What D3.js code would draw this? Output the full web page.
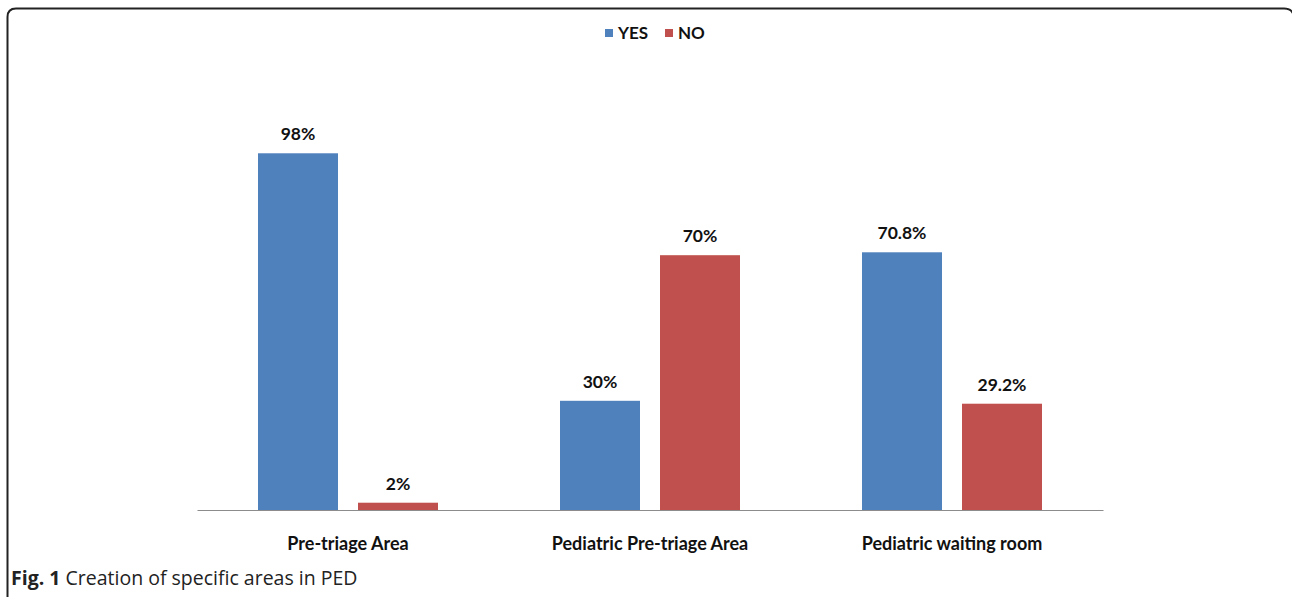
<!DOCTYPE html>
<html>
<head>
<meta charset="utf-8">
<script src="https://cdn.jsdelivr.net/npm/d3@7"></script>
<style>
  body { margin: 0; background: #fff; }
  svg { display: block; }
</style>
</head>
<body>
<svg id="chart" width="1292" height="597"></svg>
<script>
// Data
const categories = ["Pre-triage Area", "Pediatric Pre-triage Area", "Pediatric waiting room"];
const seriesNames = ["YES", "NO"];
const yesValues = [98, 30, 70.8];
const noValues = [2, 70, 29.2];
const valueLabels = [["98%", "2%"], ["30%", "70%"], ["70.8%", "29.2%"]];
const colors = ["#4F81BD", "#C0504D"];

const svg = d3.select("#chart");
const width = +svg.attr("width");
const height = +svg.attr("height");

// frame around the figure (right edge runs just off the page)
svg.append("path")
    .attr("d", "M7.5,597 L7.5,17 Q7.5,8.5 16,8.5 L1284,8.5 Q1294,8.5 1294,19 L1294,597")
    .attr("fill", "none")
    .attr("stroke", "#222")
    .attr("stroke-width", 2);

// scales
const x0 = d3.scaleBand().domain(categories).range([197, 1103]).paddingInner(0).paddingOuter(0);
const x1 = d3.scaleBand().domain(seriesNames).range([61, 241]).paddingInner(0.2);
const y = d3.scaleLinear().domain([0, 100]).range([510, 146]);

const color = d3.scaleOrdinal().domain(seriesNames).range(colors);

const rows = categories.map((c, i) => ({
    category: c,
    values: [
        {key: "YES", value: yesValues[i], label: valueLabels[i][0]},
        {key: "NO", value: noValues[i], label: valueLabels[i][1]}
    ]
}));

const groups = svg.append("g")
    .selectAll("g")
    .data(rows)
    .enter()
    .append("g")
    .attr("transform", d => "translate(" + x0(d.category) + ",0)");

groups.selectAll("rect")
    .data(d => d.values)
    .enter()
    .append("rect")
    .attr("x", d => x1(d.key))
    .attr("y", d => y(d.value))
    .attr("width", x1.bandwidth())
    .attr("height", d => y(0) - y(d.value))
    .attr("fill", d => color(d.key));

groups.selectAll("text")
    .data(d => d.values)
    .enter()
    .append("text")
    .attr("x", d => x1(d.key) + x1.bandwidth() / 2)
    .attr("y", d => y(d.value) - 13)
    .attr("text-anchor", "middle")
    .style("font-family", "Lato, 'Open Sans', sans-serif")
    .style("font-weight", "bold")
    .style("font-size", "17.5px")
    .style("fill", "#111")
    .text(d => d.label);

// x axis
const xAxis = svg.append("g")
    .attr("transform", "translate(0," + y(0) + ")")
    .call(d3.axisBottom(x0).tickSize(0).tickPadding(27));
xAxis.select(".domain").attr("stroke", "#8c8c8c").attr("stroke-width", 1.2);
xAxis.selectAll("text")
    .style("font-family", "Lato, 'Open Sans', sans-serif")
    .style("font-weight", "bold")
    .style("font-size", "18px")
    .style("fill", "#111");

// legend
const legend = svg.append("g").attr("transform", "translate(605,33)");
const legendX = [0, 60];
const legendItem = legend.selectAll("g")
    .data(seriesNames)
    .enter()
    .append("g")
    .attr("transform", (d, i) => "translate(" + legendX[i] + ",0)");
legendItem.append("rect")
    .attr("x", 0)
    .attr("y", -4)
    .attr("width", 8)
    .attr("height", 8)
    .attr("fill", d => color(d));
legendItem.append("text")
    .attr("x", 13)
    .attr("y", 6)
    .style("font-family", "Lato, 'Open Sans', sans-serif")
    .style("font-weight", "bold")
    .style("font-size", "17px")
    .style("fill", "#111")
    .text(d => d);

// caption
const caption = svg.append("text")
    .attr("x", 11)
    .attr("y", 585)
    .style("font-family", "'Open Sans', sans-serif")
    .style("font-size", "19.5px")
    .style("fill", "#222");
caption.append("tspan").style("font-weight", "bold").text("Fig. 1");
caption.append("tspan").text(" Creation of specific areas in PED");
</script>
</body>
</html>
